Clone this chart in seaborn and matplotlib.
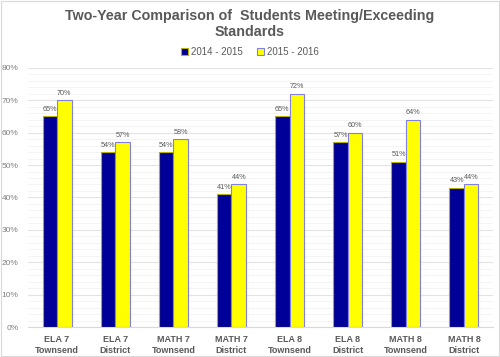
import matplotlib.pyplot as plt
import matplotlib.ticker as mticker
import seaborn as sns
import pandas as pd

# values
categories = ['ELA 7\nTownsend', 'ELA 7\nDistrict', 'MATH 7\nTownsend', 'MATH 7\nDistrict',
              'ELA 8\nTownsend', 'ELA 8\nDistrict', 'MATH 8\nTownsend', 'MATH 8\nDistrict']
years = ['2014 - 2015', '2015 - 2016']
vals_1415 = [65, 54, 54, 41, 65, 57, 51, 43]
vals_1516 = [70, 57, 58, 44, 72, 60, 64, 44]

df = pd.DataFrame({
    'Category': categories * 2,
    'Year': [years[0]] * len(categories) + [years[1]] * len(categories),
    'Value': vals_1415 + vals_1516,
})

palette = {years[0]: '#000099', years[1]: '#FFFF00'}
edges = {years[0]: '#B8B000', years[1]: '#8080E0'}
text_col = '#595959'

sns.set_style('white')
plt.rcParams['font.family'] = ['Liberation Sans', 'DejaVu Sans']

fig = plt.figure(figsize=(5, 3.57), dpi=100)
ax = fig.add_axes([0.056, 0.084, 0.930, 0.726])

sns.barplot(data=df, x='Category', y='Value', hue='Year', palette=palette,
            width=0.5, saturation=1, ax=ax, legend=False, zorder=3)

# edges per hue
for cont, yr in zip(ax.containers, years):
    for bar in cont:
        bar.set_edgecolor(edges[yr])
        bar.set_linewidth(0.8)
    ax.bar_label(cont, labels=[f'{int(v)}%' for v in cont.datavalues],
                 padding=2.5, fontsize=5.2, color=text_col)

ax.set_ylim(0, 80)
ax.set_xlim(-0.5, len(categories) - 0.5)
ax.yaxis.set_major_locator(mticker.MultipleLocator(10))
ax.yaxis.set_minor_locator(mticker.MultipleLocator(2))
ax.yaxis.set_major_formatter(mticker.FuncFormatter(lambda v, p: f'{int(v)}%'))
ax.grid(axis='y', which='major', color='#E3E3E3', linewidth=0.8, zorder=0)
ax.grid(axis='y', which='minor', color='#F2F2F2', linewidth=0.6, zorder=0)
ax.set_axisbelow(True)
ax.tick_params(axis='y', which='both', length=0, labelsize=6, labelcolor='#808080', pad=7)
ax.tick_params(axis='x', length=0, labelsize=6.5, labelcolor=text_col, pad=6)
for lbl in ax.get_xticklabels():
    lbl.set_fontweight('bold')
ax.set_xlabel('')
ax.set_ylabel('')
for side in ['top', 'right', 'left']:
    ax.spines[side].set_visible(False)
ax.spines['bottom'].set_color('#D9D9D9')

fig.text(0.5, 0.975, 'Two-Year Comparison of  Students Meeting/Exceeding\nStandards',
         ha='center', va='top', fontsize=10.3, fontweight='bold', color=text_col,
         linespacing=1.2)

handles = [plt.Rectangle((0, 0), 1, 1, facecolor=palette[y], edgecolor=edges[y], linewidth=0.8)
           for y in years]
fig.legend(handles, years, loc='center', bbox_to_anchor=(0.5, 0.855), ncol=2, frameon=False,
           fontsize=7, handlelength=0.7, handleheight=0.7, handletextpad=0.3, columnspacing=1.5,
           labelcolor=text_col)

fig.patches.append(plt.Rectangle((0.002, 0.002), 0.996, 0.996, transform=fig.transFigure,
                                 fill=False, edgecolor='#D9D9D9', linewidth=0.8))

fig.savefig('out.png', dpi=100)
